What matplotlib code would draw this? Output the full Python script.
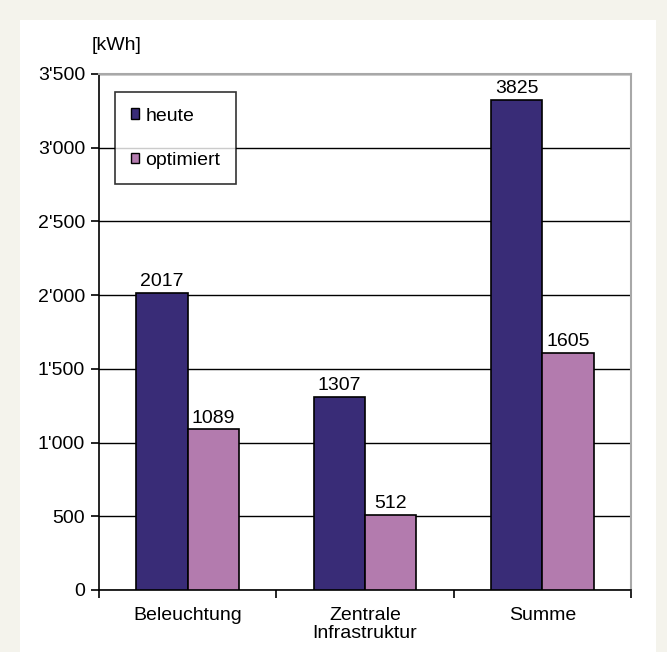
import matplotlib.pyplot as plt
import matplotlib.patches as mpatches
import numpy as np
from matplotlib.ticker import FuncFormatter

plt.rcParams['font.family'] = ['Liberation Sans', 'DejaVu Sans']

# daten
categories = ['Beleuchtung', 'Zentrale\nInfrastruktur', 'Summe']
heute = [2017, 1307, 3324]
optimiert = [1089, 512, 1605]
heute_labels = ['2017', '1307', '3825']
optimiert_labels = ['1089', '512', '1605']
series_names = ['heute', 'optimiert']
yticks = [0, 500, 1000, 1500, 2000, 2500, 3000, 3500]

c_heute = '#392c77'
c_opt = '#b37bae'
fs = 14

fig = plt.figure(figsize=(6.67, 6.52), dpi=100, facecolor='#f4f3ec')
# weisses panel
fig.patches.append(mpatches.Rectangle((20/667, 0), (656-20)/667, (652-20)/652,
                                      transform=fig.transFigure, facecolor='white',
                                      edgecolor='none', zorder=-10))

ax = fig.add_axes([99/667, 62/652, (631-99)/667, (590-74)/652])
ax.set_facecolor('white')

x = np.arange(len(categories))
w = 0.29
b1 = ax.bar(x - w/2, heute, w, color=c_heute, edgecolor='black', linewidth=1.2, zorder=3)
b2 = ax.bar(x + w/2, optimiert, w, color=c_opt, edgecolor='black', linewidth=1.2, zorder=3)

for rect, lab in zip(b1, heute_labels):
    ax.text(rect.get_x() + rect.get_width()/2, rect.get_height() + 20, lab,
            ha='center', va='bottom', fontsize=fs)
for rect, lab in zip(b2, optimiert_labels):
    ax.text(rect.get_x() + rect.get_width()/2, rect.get_height() + 20, lab,
            ha='center', va='bottom', fontsize=fs)

ax.set_xlim(-0.5, 2.5)
ax.set_ylim(0, 3500)
ax.set_yticks(yticks)
ax.yaxis.set_major_formatter(FuncFormatter(lambda v, p: f'{int(v):,}'.replace(',', "'")))
ax.yaxis.grid(True, color='black', linewidth=1, zorder=1)
ax.set_axisbelow(True)

ax.set_xticks([-0.5, 0.5, 1.5, 2.5])
ax.set_xticklabels([])
ax.set_xticks(x, minor=True)
ax.set_xticklabels(categories, minor=True, fontsize=fs, linespacing=1.1)
ax.tick_params(axis='x', which='minor', length=0, pad=12)
ax.tick_params(axis='x', which='major', length=6, width=1.2, direction='out')
ax.tick_params(axis='y', length=6, width=1.2, direction='out', labelsize=fs, pad=4)

ax.spines['left'].set_linewidth(1.2)
ax.spines['bottom'].set_linewidth(1.2)
ax.spines['top'].set_color('#a8a8a8')
ax.spines['right'].set_color('#a8a8a8')
ax.spines['top'].set_linewidth(1.5)
ax.spines['right'].set_linewidth(1.5)

handles = [mpatches.Patch(facecolor=c_heute, edgecolor='black'),
           mpatches.Patch(facecolor=c_opt, edgecolor='black')]
leg = ax.legend(handles, series_names, loc='upper left', bbox_to_anchor=(16/532, 1 - 18/516),
                fontsize=fs, frameon=True, fancybox=False, edgecolor='black',
                handlelength=0.45, handleheight=0.45, handletextpad=0.3,
                labelspacing=1.4, borderpad=0.8, borderaxespad=0)
leg.get_frame().set_linewidth(1.2)
leg.set_zorder(5)

fig.text(92/667, 1 - 45/652, '[kWh]', fontsize=fs, ha='left', va='center')

fig.savefig('out.png', dpi=100, facecolor=fig.get_facecolor())
